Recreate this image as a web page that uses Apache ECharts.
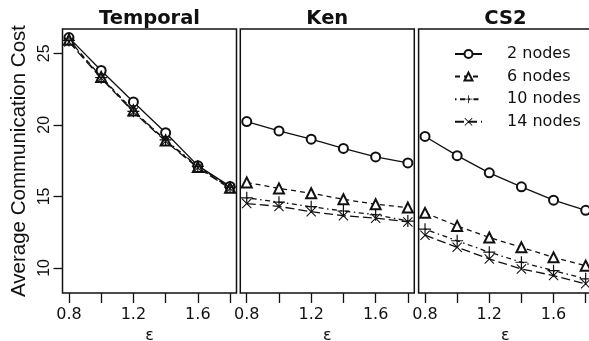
<!DOCTYPE html>
<html><head><meta charset="utf-8">
<script src="https://cdn.jsdelivr.net/npm/echarts@6/dist/echarts.min.js"></script>
<style>html,body{margin:0;padding:0;background:#fff}#c{width:589px;height:341px}</style>
</head><body><div id="c"></div>
<script>
// ---- data ----
const eps = [0.8, 1.0, 1.2, 1.4, 1.6, 1.8];
const panelTitles = ['Temporal', 'Ken', 'CS2'];
const seriesNames = ['2 nodes', '6 nodes', '10 nodes', '14 nodes'];
const xTickValues = [0.8, 1.0, 1.2, 1.4, 1.6, 1.8];
const xTickLabels = ['0.8', '1.2', '1.6'];
const yTickLabels = ['10', '15', '20', '25'];
const yAxisTitle = 'Average Communication Cost';
const xAxisTitle = 'ε';

const temporal2  = [26.1, 23.8, 21.6, 19.45, 17.15, 15.7];
const temporal6  = [25.95, 23.35, 21.0, 18.9, 17.05, 15.6];
const temporal10 = [25.9, 23.3, 20.95, 18.95, 17.1, 15.65];
const temporal14 = [25.8, 23.25, 20.9, 18.85, 17.0, 15.55];

const ken2  = [20.23, 19.58, 19.0, 18.35, 17.76, 17.34];
const ken6  = [15.98, 15.56, 15.22, 14.8, 14.45, 14.22];
const ken10 = [14.9, 14.6, 14.28, 13.98, 13.72, 13.28];
const ken14 = [14.5, 14.3, 13.93, 13.65, 13.48, 13.22];

const cs2_2  = [19.19, 17.85, 16.65, 15.67, 14.74, 14.03];
const cs2_6  = [13.85, 12.94, 12.13, 11.44, 10.74, 10.16];
const cs2_10 = [12.71, 11.9, 11.1, 10.4, 9.81, 9.24];
const cs2_14 = [12.29, 11.44, 10.63, 9.93, 9.47, 8.89];

const panelData = [
  [temporal2, temporal6, temporal10, temporal14],
  [ken2, ken6, ken10, ken14],
  [cs2_2, cs2_6, cs2_10, cs2_14]
];

// ---- styling ----
const INK = '#111';
const PLUS = 'path://M-1,-10L1,-10L1,-1L10,-1L10,1L1,1L1,10L-1,10L-1,1L-10,1L-10,-1L-1,-1Z';
const CROSS = 'path://M-10,-8.5L-8.5,-10L0,-1.5L8.5,-10L10,-8.5L1.5,0L10,8.5L8.5,10L0,1.5L-8.5,10L-10,8.5L-1.5,0Z';
const styles = [
  { symbol: 'emptyCircle', size: 9, dash: 'solid', empty: true },
  { symbol: 'emptyTriangle', size: 10, dash: [5, 4], empty: true },
  { symbol: PLUS, size: 12, dash: [1.5, 3.5, 5, 3.5], empty: false },
  { symbol: CROSS, size: 10, dash: [9, 4], empty: false }
];
const grids = [
  { left: 62.5, top: 29, width: 174, height: 264 },
  { left: 240.3, top: 29, width: 174, height: 264 },
  { left: 418.6, top: 29, width: 173.5, height: 264 }
];
const FONT = 'DejaVu Sans';

const chart = echarts.init(document.getElementById('c'), null, { renderer: 'canvas' });

const xAxes = grids.map((g, i) => ({
  type: 'value', gridIndex: i, min: 0.76, max: 1.84,
  axisLine: { show: false },
  splitLine: { show: false },
  axisTick: { show: true, length: 10, customValues: xTickValues, lineStyle: { color: INK, width: 1.3 } },
  axisLabel: {
    customValues: xTickLabels.map(Number),
    formatter: v => xTickLabels.find(s => Math.abs(Number(s) - v) < 1e-6) || '',
    margin: 14, fontSize: 16, fontFamily: FONT, color: INK
  },
  name: xAxisTitle, nameLocation: 'middle', nameGap: 27,
  nameTextStyle: { fontSize: 16, fontFamily: FONT, color: INK }
}));

const yAxes = grids.map((g, i) => ({
  type: 'value', gridIndex: i, min: 8.25, max: 26.7,
  axisLine: { show: false },
  splitLine: { show: false },
  axisTick: { show: i === 0, length: 9, customValues: yTickLabels.map(Number), lineStyle: { color: INK, width: 1.3 } },
  axisLabel: {
    show: i === 0, customValues: yTickLabels.map(Number), rotate: 90,
    formatter: v => String(v), margin: 10, fontSize: 16, fontFamily: 'Liberation Sans', color: INK
  },
  name: i === 0 ? yAxisTitle : '', nameLocation: 'middle', nameGap: 33,
  nameTextStyle: { fontSize: 20.5, fontFamily: 'Liberation Sans', color: INK }
}));

const series = [];
panelData.forEach((arrs, p) => {
  arrs.forEach((arr, k) => {
    const st = styles[k];
    series.push({
      type: 'line', name: seriesNames[k], xAxisIndex: p, yAxisIndex: p,
      data: eps.map((x, j) => [x, arr[j]]),
      symbol: st.symbol, symbolSize: st.size, showSymbol: true,
      lineStyle: { color: INK, width: 1.3, type: st.dash },
      itemStyle: st.empty ? { color: INK, borderColor: INK, borderWidth: 1.1 } : { color: INK, borderWidth: 0 },
      emphasis: { disabled: true },
      animation: false
    });
  });
});

chart.setOption({
  backgroundColor: '#fff',
  animation: false,
  title: panelTitles.map((t, i) => ({
    text: t, left: grids[i].left + grids[i].width / 2, top: 9, textAlign: 'center', padding: 0,
    textStyle: { fontFamily: FONT, fontWeight: 'bold', fontSize: 19.5, color: INK }
  })),
  legend: {
    data: seriesNames, orient: 'vertical', left: 449, top: 41,
    itemWidth: 27, itemHeight: 10, itemGap: 6.6, selectedMode: false,
    textStyle: { fontFamily: FONT, fontSize: 16, color: INK, lineHeight: 16, padding: [0, 0, 0, 20] }
  },
  grid: grids.map(g => Object.assign({ show: true, borderColor: INK, borderWidth: 1.5, backgroundColor: 'transparent', containLabel: false, outerBoundsMode: 'none' }, g)),
  xAxis: xAxes,
  yAxis: yAxes,
  series: series
});
</script>
</body></html>
